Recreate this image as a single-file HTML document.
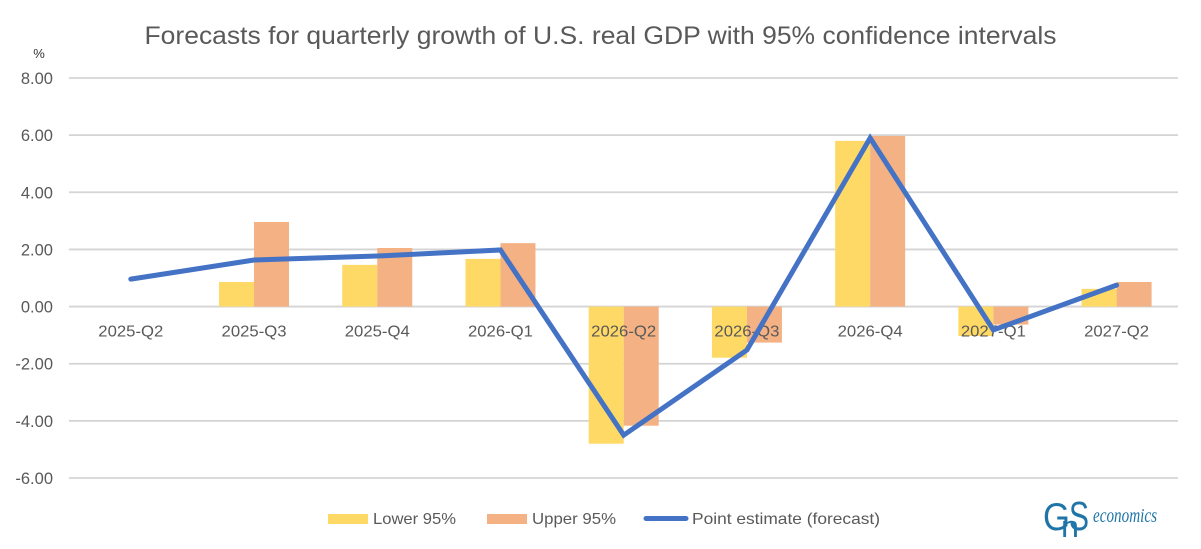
<!DOCTYPE html>
<html>
<head>
<meta charset="utf-8">
<style>
html,body{margin:0;padding:0;background:#fff;width:1201px;height:549px;overflow:hidden}
svg{display:block}
text{font-family:"Liberation Sans",sans-serif}
</style>
</head>
<body>
<svg id="chart" width="1201" height="549" viewBox="0 0 1201 549" xmlns="http://www.w3.org/2000/svg">
  <rect width="1201" height="549" fill="#fff"/>
  <text x="600.5" y="44" text-anchor="middle" font-size="25" fill="#595959" textLength="912" lengthAdjust="spacingAndGlyphs">Forecasts for quarterly growth of U.S. real GDP with 95% confidence intervals</text>
  <text x="39" y="58" text-anchor="middle" font-size="13" fill="#333">%</text>
  <g id="grid"></g>
  <g id="yticks"></g>
  <g id="bars"></g>
  <g id="xticks"></g>
  <polyline id="line" fill="none" stroke="#4472c4" stroke-width="5" stroke-linejoin="miter" stroke-linecap="round"/>
  <g>
    <rect x="328" y="514" width="40" height="10" fill="#ffd966"/>
    <text x="373" y="524" font-size="16" fill="#595959" textLength="83" lengthAdjust="spacingAndGlyphs">Lower 95%</text>
    <rect x="487" y="514" width="40" height="10" fill="#f4b183"/>
    <text x="532" y="524" font-size="16" fill="#595959" textLength="84" lengthAdjust="spacingAndGlyphs">Upper 95%</text>
    <line x1="646" y1="518.5" x2="686" y2="518.5" stroke="#4472c4" stroke-width="5" stroke-linecap="round"/>
    <text x="692" y="524" font-size="16" fill="#595959" textLength="188" lengthAdjust="spacingAndGlyphs">Point estimate (forecast)</text>
  </g>
  <g>
    <text x="1043" y="530" font-size="39" fill="#1f75a8" textLength="27" lengthAdjust="spacingAndGlyphs">G</text>
    <text x="1061" y="537" font-size="31" fill="#1f75a8" textLength="18" lengthAdjust="spacingAndGlyphs">n</text>
    <text x="1069" y="530" font-size="41" fill="#1f75a8" textLength="20" lengthAdjust="spacingAndGlyphs">S</text>
    <text x="1093" y="522" font-size="20" font-style="italic" fill="#1f75a8" style="font-family:'Liberation Serif',serif" textLength="64" lengthAdjust="spacingAndGlyphs">economics</text>
  </g>
</svg>
<script>
const categories = ["2025-Q2","2025-Q3","2025-Q4","2026-Q1","2026-Q2","2026-Q3","2026-Q4","2027-Q1","2027-Q2"];
const lower95 = [null,0.86,1.46,1.67,-4.8,-1.79,5.8,-1.03,0.62];
const upper95 = [null,2.96,2.05,2.22,-4.17,-1.26,5.97,-0.63,0.86];
const pointEstimate = [0.96,1.63,1.77,1.98,-4.5,-1.52,5.9,-0.82,0.75];
const yTicks = [8,6,4,2,0,-2,-4,-6];

const NS = "http://www.w3.org/2000/svg";
const plotLeft = 69, plotRight = 1178, yTop = 78, yBottom = 478, yMax = 8, yMin = -6, barW = 35;
const step = (plotRight - plotLeft) / categories.length;
const xc = i => plotLeft + step * (i + 0.5) + 0.2;
const yv = v => yTop + (yMax - v) * (yBottom - yTop) / (yMax - yMin);

function mk(tag, attrs, parent, text) {
  const el = document.createElementNS(NS, tag);
  for (const k in attrs) el.setAttribute(k, attrs[k]);
  if (text !== undefined) el.textContent = text;
  parent.appendChild(el);
  return el;
}

const grid = document.getElementById("grid");
const yt = document.getElementById("yticks");
yTicks.forEach(v => {
  const gl = mk("line", {x1: plotLeft, x2: plotRight, y1: yv(v), y2: yv(v), stroke: "#d4d4d4", "stroke-width": 1.8}, grid);
  
  
  const t = mk("text", {x: 53, y: yv(v) + 6, "text-anchor": "end", "font-size": 16.5, fill: "#595959"}, yt, v.toFixed(2));
  
  
});

const bars = document.getElementById("bars");
const zero = yv(0);
categories.forEach((c, i) => {
  if (lower95[i] !== null) {
    const y = yv(lower95[i]);
    const b = mk("rect", {x: xc(i) - barW, y: Math.min(y, zero), width: barW, height: Math.abs(y - zero), fill: "#ffd966"}, bars);
    
    
  }
  if (upper95[i] !== null) {
    const y = yv(upper95[i]);
    const b = mk("rect", {x: xc(i), y: Math.min(y, zero), width: barW, height: Math.abs(y - zero), fill: "#f4b183"}, bars);
    
    
  }
});

const xt = document.getElementById("xticks");
categories.forEach((c, i) => {
  const t = mk("text", {x: xc(i), y: 336.5, "text-anchor": "middle", "font-size": 16, fill: "#595959", textLength: 65, lengthAdjust: "spacingAndGlyphs"}, xt, c);
  
  
});

document.getElementById("line").setAttribute("points", pointEstimate.map((v, i) => xc(i) + "," + yv(v)).join(" "));
</script>
</body>
</html>
